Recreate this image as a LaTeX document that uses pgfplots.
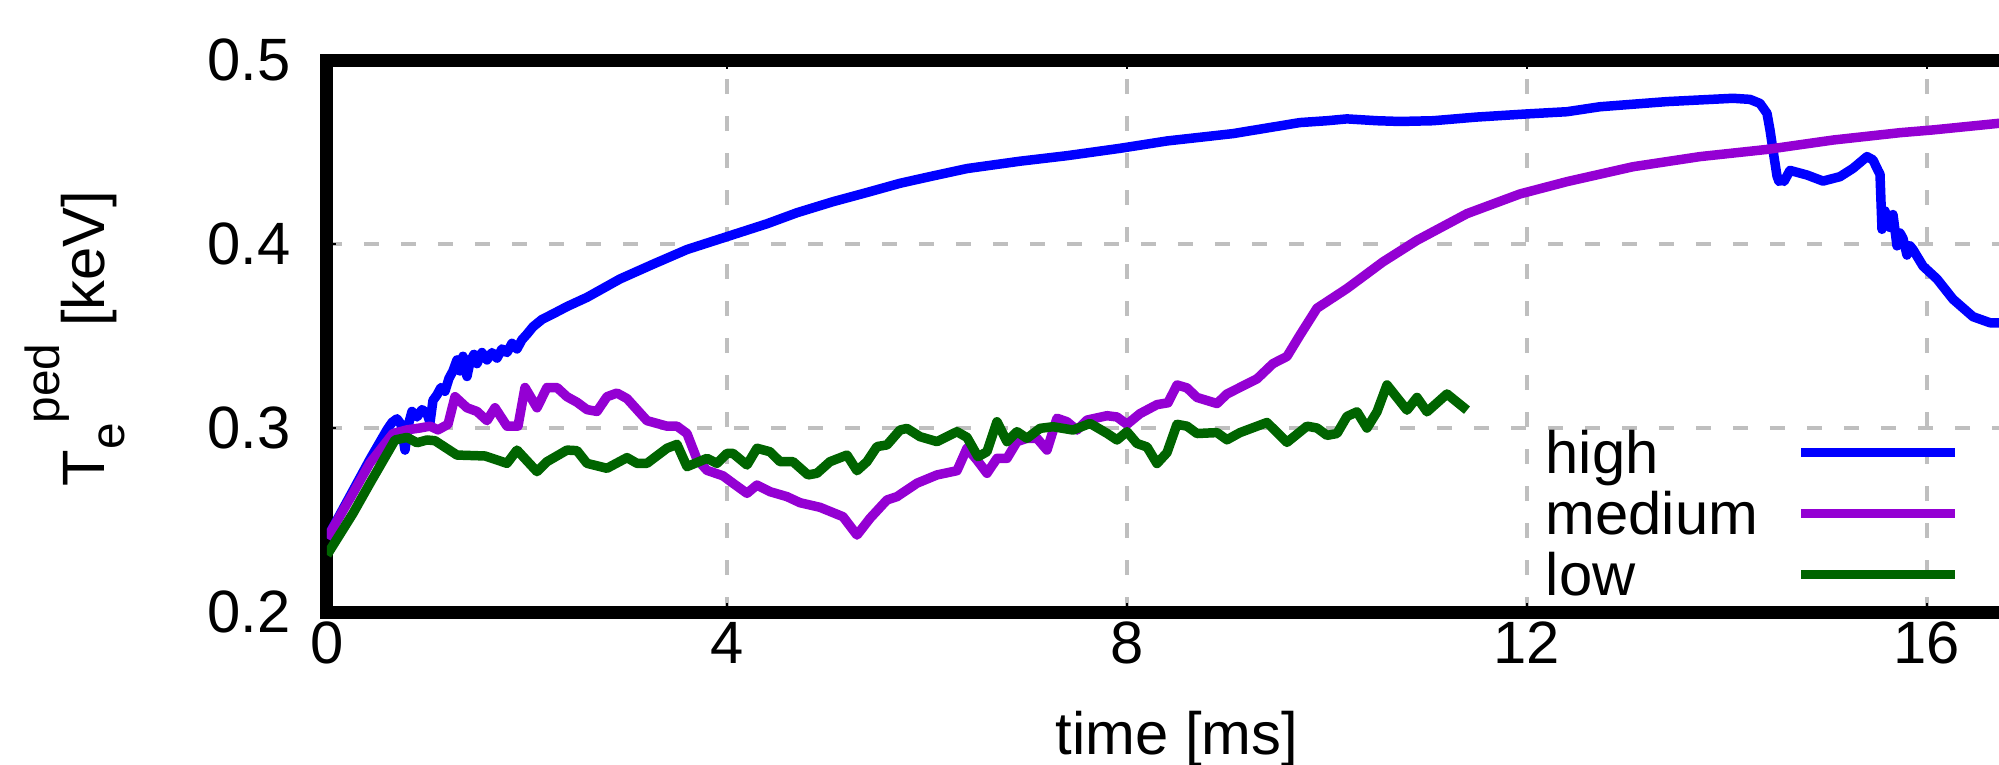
\documentclass[border=0pt]{standalone}
\usepackage{pgfplots}
\pgfplotsset{compat=1.18}
\usepackage{fontspec}
\setmainfont{Liberation Sans}
\definecolor{cblue}{RGB}{0,0,255}
\definecolor{cpurple}{RGB}{148,0,211}
\definecolor{cgreen}{RGB}{0,100,0}
\newcommand{\smallfnt}{\fontsize{13.6}{15}\selectfont}
\begin{document}
\fontsize{17}{20}\selectfont
\begin{tikzpicture}
\useasboundingbox (-32.7mm,-15.2mm) rectangle (167.2mm,61.2mm);
\clip (-32.7mm,-15.2mm) rectangle (167.2mm,61.2mm);
\begin{axis}[
  scale only axis,
  width=170mm, height=55.2mm,
  xmin=0, xmax=17, ymin=0.2, ymax=0.5,
  xtick={0,4,8,12,16},
  ytick={0.2,0.3,0.4,0.5},
  /pgf/number format/assume math mode=true,
  yticklabel style={/pgf/number format/fixed, /pgf/number format/precision=1, /pgf/number format/fixed zerofill},
  yticklabel style={anchor=east, inner sep=0pt, xshift=-3.6mm},
  xticklabel style={anchor=base, inner sep=0pt, yshift=-5.1mm},
  tick label style={font=\fontsize{17}{20}\selectfont},
  label style={font=\fontsize{17}{20}\selectfont},
  axis line style={line width=3.7pt, black},
  tick style={black, line width=0.5pt},
  major tick length=0.9mm,
  tick align=inside,
  grid=major,
  major grid style={black!25, line width=1.1pt, dash pattern=on 1.5mm off 2.2mm},
  xlabel={time [ms]},
  xlabel style={at={(axis description cs:0.5,-0.259)}, anchor=base, inner sep=0pt},
  ylabel={T\raisebox{-2mm}{\smallfnt e}\raisebox{4.5mm}{\smallfnt ped} [keV]},
  ylabel style={at={(axis description cs:-0.1485,0.4955)}, anchor=center, inner sep=0pt},
  legend plot pos=right,
  legend cell align=left,
  legend style={draw=none, fill=none, at={(axis description cs:0.7165,0.3279)}, anchor=north west,
    inner sep=0pt, row sep=1.9mm, column sep=3.8mm, font=\fontsize{17}{20}\selectfont,
    nodes={inner sep=0pt, text height=4.2mm, text depth=0mm}},
  legend image code/.code={\draw[#1] (0cm,0cm) -- (1.54cm,0cm);},
  every axis plot/.append style={line width=2.7pt, line join=round, mark=none},
]
\addplot[cblue] table {
0 0.240
0.10 0.250
0.26 0.266
0.43 0.283
0.60 0.299
0.65 0.303
0.70 0.305
0.74 0.302
0.78 0.288
0.81 0.301
0.85 0.309
0.90 0.306
0.95 0.310
1.00 0.308
1.03 0.303
1.06 0.315
1.10 0.318
1.14 0.322
1.18 0.320
1.22 0.327
1.26 0.331
1.30 0.337
1.33 0.331
1.36 0.339
1.40 0.328
1.43 0.336
1.47 0.340
1.50 0.335
1.55 0.341
1.60 0.337
1.65 0.341
1.70 0.338
1.75 0.343
1.80 0.341
1.85 0.346
1.90 0.343
1.95 0.348
2.00 0.351
2.06 0.355
2.15 0.359
2.26 0.362
2.40 0.366
2.60 0.371
2.93 0.381
3.26 0.389
3.60 0.397
4.00 0.404
4.40 0.411
4.70 0.417
5.06 0.423
5.40 0.428
5.73 0.433
6.06 0.437
6.40 0.441
6.93 0.445
7.40 0.448
7.93 0.452
8.40 0.456
9.06 0.460
9.73 0.466
10.00 0.467
10.20 0.468
10.50 0.467
10.73 0.4666
11.06 0.467
11.50 0.469
12.00 0.4707
12.40 0.4719
12.73 0.4746
13.40 0.4774
14.06 0.4792
14.23 0.4786
14.33 0.4764
14.40 0.471
14.43 0.462
14.46 0.451
14.50 0.437
14.52 0.434
14.55 0.435
14.57 0.434
14.63 0.440
14.80 0.4375
14.96 0.4342
15.13 0.4366
15.26 0.4411
15.40 0.4475
15.46 0.4457
15.51 0.440
15.53 0.438
15.55 0.408
15.58 0.418
15.60 0.413
15.63 0.409
15.66 0.416
15.70 0.399
15.73 0.406
15.76 0.403
15.80 0.394
15.83 0.399
15.86 0.397
15.96 0.388
16.10 0.381
16.26 0.370
16.46 0.3605
16.63 0.3572
16.80 0.357
17.00 0.357
};
\addlegendentry{high}
\addplot[cpurple] table {
0 0.240
0.26 0.2645
0.43 0.281
0.66 0.297
0.80 0.299
0.93 0.300
1.03 0.301
1.11 0.299
1.21 0.302
1.28 0.317
1.40 0.311
1.50 0.309
1.60 0.304
1.68 0.311
1.80 0.301
1.91 0.301
1.98 0.322
2.10 0.311
2.20 0.322
2.30 0.322
2.40 0.317
2.50 0.314
2.60 0.310
2.70 0.309
2.80 0.317
2.90 0.319
3.00 0.316
3.20 0.304
3.40 0.301
3.50 0.301
3.60 0.297
3.70 0.283
3.80 0.277
3.96 0.274
4.06 0.270
4.20 0.2645
4.30 0.269
4.43 0.2654
4.60 0.2627
4.73 0.2594
4.93 0.2569
5.16 0.2518
5.30 0.2418
5.43 0.2509
5.60 0.2609
5.70 0.2627
5.90 0.270
6.10 0.2745
6.30 0.2768
6.40 0.289
6.50 0.2826
6.60 0.2754
6.70 0.2835
6.80 0.2835
6.90 0.2926
7.00 0.2944
7.10 0.2944
7.20 0.288
7.30 0.3053
7.40 0.3034
7.50 0.2989
7.60 0.3043
7.80 0.3067
7.90 0.306
8.00 0.302
8.13 0.3078
8.30 0.3127
8.41 0.3137
8.50 0.3234
8.60 0.3218
8.70 0.3166
8.90 0.3133
9.00 0.3185
9.30 0.3267
9.46 0.335
9.60 0.3389
9.73 0.3505
9.90 0.3651
10.20 0.3758
10.56 0.3903
10.90 0.402
11.40 0.4165
11.93 0.4272
12.40 0.4339
13.06 0.442
13.73 0.4475
14.40 0.4514
15.06 0.4565
15.73 0.4605
16.06 0.462
16.72 0.4656
17.00 0.467
};
\addlegendentry{medium}
\addplot[cgreen] table {
0 0.231
0.26 0.2536
0.43 0.270
0.68 0.2935
0.80 0.2949
0.90 0.292
1.00 0.2935
1.08 0.2931
1.30 0.2853
1.58 0.2848
1.80 0.2808
1.90 0.288
2.10 0.2763
2.20 0.2817
2.40 0.288
2.50 0.2877
2.60 0.2808
2.80 0.2781
3.00 0.2839
3.10 0.2808
3.20 0.2808
3.40 0.289
3.50 0.2911
3.60 0.279
3.80 0.2835
3.90 0.2808
4.00 0.2862
4.06 0.2862
4.20 0.2799
4.30 0.289
4.43 0.2871
4.53 0.2817
4.66 0.2817
4.81 0.2745
4.90 0.2754
5.03 0.2817
5.20 0.2853
5.30 0.2768
5.40 0.2817
5.50 0.2899
5.60 0.2908
5.73 0.2989
5.80 0.2998
5.93 0.2953
6.10 0.2926
6.30 0.298
6.40 0.2949
6.51 0.2844
6.60 0.2871
6.70 0.3034
6.80 0.2926
6.90 0.298
7.00 0.2944
7.13 0.2998
7.26 0.3007
7.46 0.2989
7.63 0.3025
7.80 0.2971
7.90 0.2935
8.00 0.298
8.10 0.2916
8.20 0.2897
8.30 0.2807
8.40 0.2866
8.50 0.302
8.60 0.301
8.70 0.297
8.90 0.2975
9.00 0.2936
9.13 0.2975
9.40 0.303
9.60 0.2922
9.80 0.301
9.90 0.300
10.00 0.296
10.10 0.297
10.20 0.3063
10.30 0.3088
10.40 0.300
10.50 0.3088
10.60 0.3234
10.80 0.3097
10.90 0.3166
11.00 0.3088
11.20 0.3185
11.40 0.3097
};
\addlegendentry{low}
\end{axis}
\end{tikzpicture}
\end{document}
